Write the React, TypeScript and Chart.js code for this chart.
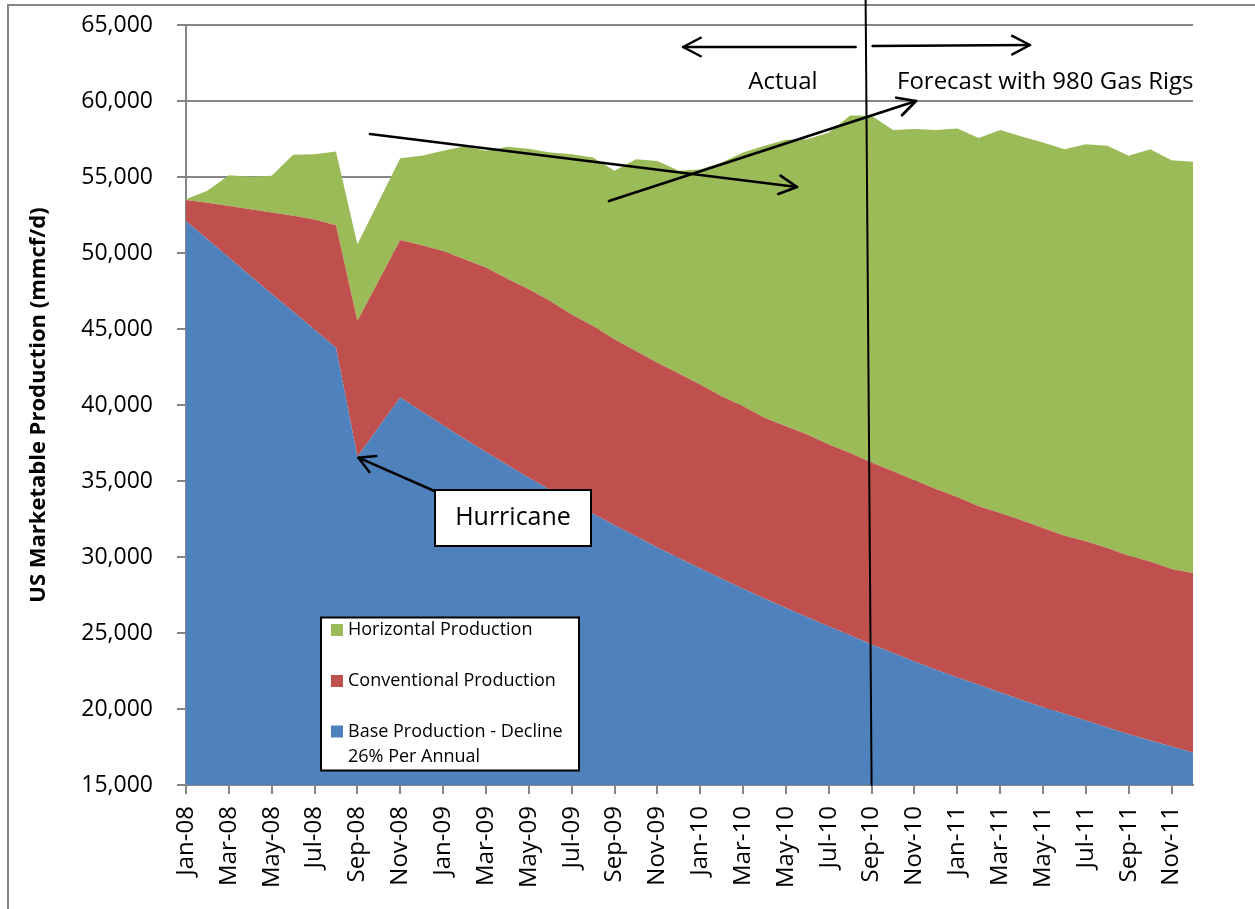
import React, { useEffect, useRef } from 'react';
import { Chart, registerables } from 'chart.js';

Chart.register(...registerables);

const months = [
  'Jan-08', 'Feb-08', 'Mar-08', 'Apr-08', 'May-08', 'Jun-08', 'Jul-08', 'Aug-08', 'Sep-08', 'Oct-08', 'Nov-08', 'Dec-08',
  'Jan-09', 'Feb-09', 'Mar-09', 'Apr-09', 'May-09', 'Jun-09', 'Jul-09', 'Aug-09', 'Sep-09', 'Oct-09', 'Nov-09', 'Dec-09',
  'Jan-10', 'Feb-10', 'Mar-10', 'Apr-10', 'May-10', 'Jun-10', 'Jul-10', 'Aug-10', 'Sep-10', 'Oct-10', 'Nov-10', 'Dec-10',
  'Jan-11', 'Feb-11', 'Mar-11', 'Apr-11', 'May-11', 'Jun-11', 'Jul-11', 'Aug-11', 'Sep-11', 'Oct-11', 'Nov-11', 'Dec-11',
];

// Base production (declining) - bottom layer
const baseProduction = [
  52100, 50900, 49700, 48500, 47300, 46150, 44950, 43770, 36600, 38550, 40500, 39570,
  38660, 37770, 36900, 36050, 35220, 34410, 33620, 32850, 32090, 31360, 30630, 29930,
  29240, 28570, 27910, 27270, 26640, 26030, 25430, 24850, 24250, 23680, 23120, 22580,
  22070, 21590, 21080, 20600, 20120, 19680, 19240, 18780, 18340, 17920, 17530, 17130,
];

// Conventional production - middle layer
const conventionalProduction = [
  1390, 2400, 3400, 4380, 5360, 6300, 7250, 8060, 8920, 9640, 10360, 10940,
  11470, 11820, 12140, 12260, 12390, 12430, 12340, 12340, 12230, 12190, 12150, 12150,
  12110, 12010, 12010, 11890, 11960, 12030, 11970, 12000, 11970, 11960, 11930, 11900,
  11880, 11750, 11820, 11810, 11790, 11720, 11790, 11810, 11750, 11790, 11680, 11820,
];

// Horizontal production - top layer
const horizontalProduction = [
  50, 790, 2020, 2130, 2420, 4010, 4300, 4850, 5050, 5210, 5380, 5880,
  6590, 7440, 7680, 8680, 9250, 9770, 10540, 11090, 11090, 12620, 13280, 13330,
  14150, 15370, 16690, 17890, 18850, 19430, 20530, 22200, 22810, 22450, 23100, 23610,
  24240, 24220, 25190, 25260, 25360, 25430, 26130, 26460, 26300, 27120, 26900, 27050,
];

const seriesColors = ['#4F81BD', '#C0504D', '#9BBB59'];
const seriesNames = ['Base Production - Decline 26% Per Annual', 'Conventional Production', 'Horizontal Production'];
const legendLines = [
  ['Horizontal Production'],
  ['Conventional Production'],
  ['Base Production - Decline', '26% Per Annual'],
];
const legendColors = ['#9BBB59', '#C0504D', '#4F81BD'];

const yMin = 15000;
const yMax = 65000;
const yStep = 5000;
const yTitle = 'US Marketable Production (mmcf/d)';
const forecastStartIndex = 32; // Sep-10
const hurricaneIndex = 8; // Sep-08

const FONT = "'Open Sans', 'DejaVu Sans', sans-serif";

function arrow(ctx: CanvasRenderingContext2D, x1: number, y1: number, x2: number, y2: number, head = 20, ang = 0.48) {
  ctx.beginPath();
  ctx.moveTo(x1, y1);
  ctx.lineTo(x2, y2);
  ctx.stroke();
  const a = Math.atan2(y2 - y1, x2 - x1);
  ctx.beginPath();
  ctx.moveTo(x2 - head * Math.cos(a - ang), y2 - head * Math.sin(a - ang));
  ctx.lineTo(x2, y2);
  ctx.lineTo(x2 - head * Math.cos(a + ang), y2 - head * Math.sin(a + ang));
  ctx.stroke();
}

const overlayPlugin = {
  id: 'overlay',
  afterDraw(chart: any) {
    const ctx: CanvasRenderingContext2D = chart.ctx;
    const xs = chart.scales.x;
    const ys = chart.scales.y;
    ctx.save();

    // outer frame
    ctx.strokeStyle = '#868686';
    ctx.lineWidth = 2;
    ctx.beginPath();
    ctx.moveTo(8, 909);
    ctx.lineTo(8, 5);
    ctx.lineTo(1255, 5);
    ctx.stroke();

    ctx.strokeStyle = '#000';
    ctx.lineCap = 'round';
    ctx.lineJoin = 'round';

    // vertical divider actual / forecast
    const vx = xs.getPixelForValue(forecastStartIndex);
    ctx.lineWidth = 2;
    ctx.beginPath();
    ctx.moveTo(vx - 6, 0);
    ctx.lineTo(vx, ys.bottom);
    ctx.stroke();

    // actual / forecast arrows
    ctx.lineWidth = 2.5;
    arrow(ctx, vx - 16, 47, 683, 47);
    arrow(ctx, vx + 1, 46, 1030, 45);

    ctx.fillStyle = '#000';
    ctx.font = `24px ${FONT}`;
    ctx.textBaseline = 'alphabetic';
    ctx.textAlign = 'center';
    ctx.fillText('Actual', 783, 89);
    ctx.textAlign = 'left';
    ctx.fillText('Forecast with 980 Gas Rigs', 897, 89);

    // trend arrows
    ctx.lineWidth = 2.7;
    arrow(ctx, 370, 134, 797, 187);
    arrow(ctx, 609, 201, 916, 101);

    // Hurricane annotation
    const hx = xs.getPixelForValue(hurricaneIndex);
    const hy = ys.getPixelForValue(baseProduction[hurricaneIndex]);
    ctx.lineWidth = 2.5;
    arrow(ctx, 439, 493, hx + 1, hy + 1, 18, 0.5);
    ctx.fillStyle = '#fff';
    ctx.fillRect(435, 490, 156, 56);
    ctx.lineWidth = 2;
    ctx.strokeStyle = '#000';
    ctx.lineCap = 'butt';
    ctx.lineJoin = 'miter';
    ctx.strokeRect(435, 490, 156, 56);
    ctx.fillStyle = '#000';
    ctx.font = `25px ${FONT}`;
    ctx.textAlign = 'center';
    ctx.textBaseline = 'middle';
    ctx.fillText('Hurricane', 513, 518);

    // legend
    ctx.fillStyle = '#fff';
    ctx.fillRect(321, 617.5, 258, 153);
    ctx.lineWidth = 2;
    ctx.strokeRect(321, 617.5, 258, 153);
    ctx.font = `18px ${FONT}`;
    ctx.textAlign = 'left';
    ctx.textBaseline = 'middle';
    const rowY = [630, 681, 731.5];
    legendLines.forEach((lines, i) => {
      ctx.fillStyle = legendColors[i];
      ctx.fillRect(331, rowY[i] - 6, 12, 12);
      ctx.fillStyle = '#000';
      lines.forEach((t, j) => ctx.fillText(t, 348, rowY[i] + j * 25.5));
    });

    ctx.restore();
  },
};

export default function App() {
  const ref = useRef<HTMLCanvasElement | null>(null);

  useEffect(() => {
    if (!ref.current) return;
    Chart.defaults.font.family = FONT;
    const data = [baseProduction, conventionalProduction, horizontalProduction];
    const chart = new Chart(ref.current, {
      type: 'line',
      data: {
        labels: months,
        datasets: data.map((d, i) => ({
          label: seriesNames[i],
          data: d,
          backgroundColor: seriesColors[i],
          borderColor: 'rgba(0,0,0,0)',
          borderWidth: 0,
          pointRadius: 0,
          tension: 0,
          fill: i === 0 ? 'start' : '-1',
        })),
      },
      options: {
        responsive: false,
        animation: false,
        events: [],
        layout: { padding: { left: 0, top: 25, right: 62, bottom: 0 } },
        plugins: { legend: { display: false }, tooltip: { enabled: false }, title: { display: false } },
        scales: {
          x: {
            type: 'category',
            offset: false,
            grid: { drawOnChartArea: false, color: '#868686', lineWidth: 2, tickLength: 9 },
            border: { color: '#868686', width: 2 },
            ticks: {
              autoSkip: false,
              maxRotation: 90,
              minRotation: 90,
              padding: 12,
              color: '#000',
              font: { size: 24 },
              callback: (_v: any, i: number) => (i % 2 === 0 ? months[i] : null),
            },
            afterFit: (s: any) => { s.height = 124; },
          },
          y: {
            stacked: true,
            min: yMin,
            max: yMax,
            ticks: {
              stepSize: yStep,
              padding: 24,
              color: '#000',
              font: { size: 23 },
              callback: (v: any) => Number(v).toLocaleString('en-US'),
            },
            grid: { color: '#868686', lineWidth: 2, tickLength: 9 },
            border: { color: '#868686', width: 2 },
            title: {
              display: true,
              text: yTitle,
              color: '#000',
              font: { size: 22, weight: 'bold' },
              padding: { top: 26, bottom: 0 },
            },
            afterFit: (s: any) => {
              s.width = 186;
              s.paddingTop = 0;
              s.paddingBottom = 0;
            },
          },
        },
      },
      plugins: [overlayPlugin],
    } as any);
    return () => chart.destroy();
  }, []);

  return (
    <canvas
      ref={ref}
      width={1255}
      height={909}
      style={{ position: 'absolute', left: 0, top: 0, display: 'block' }}
    />
  );
}
